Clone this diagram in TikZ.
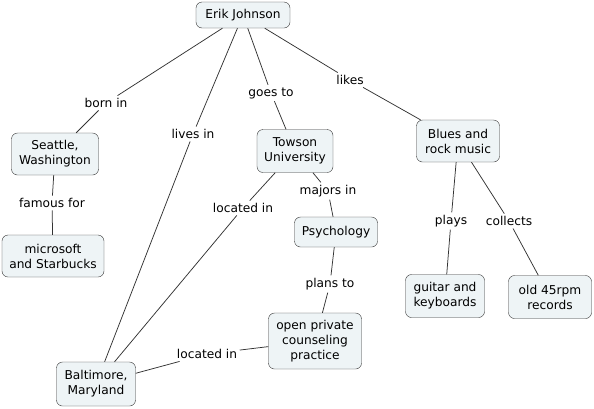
\documentclass[tikz,border=0pt]{standalone}
\usepackage{fontspec}
\setmainfont{DejaVu Sans}
\definecolor{cmapfill}{HTML}{EEF4F6}
\definecolor{cmapline}{HTML}{333333}
\begin{document}
\begin{tikzpicture}[x=1pt, y=-1pt,
    font=\fontsize{12.2}{15}\selectfont,
    concept/.style={draw=cmapline, fill=cmapfill, rounded corners=6pt, align=center, inner sep=2pt},
    linkword/.style={inner sep=2.5pt, align=center},
    link/.style={draw=cmapline, line width=0.75pt}]
    \useasboundingbox (0,0) rectangle (594,408);
    % concepts
    \node[concept, minimum width=94pt, minimum height=26pt] (erik) at (243,15) {Erik Johnson};
    \node[concept, minimum width=87pt, minimum height=42pt] (seattle) at (55,154) {Seattle,\\Washington};
    \node[concept, minimum width=102pt, minimum height=42pt] (msft) at (53,256) {microsoft\\and Starbucks};
    \node[concept, minimum width=76pt, minimum height=43pt] (towson) at (295,151) {Towson\\University};
    \node[concept, minimum width=83pt, minimum height=30pt] (psych) at (336,232) {Psychology};
    \node[concept, minimum width=93pt, minimum height=56pt] (practice) at (315,341) {open private\\counseling\\practice};
    \node[concept, minimum width=79pt, minimum height=44pt] (balt) at (96,384) {Baltimore,\\Maryland};
    \node[concept, minimum width=83pt, minimum height=42pt] (blues) at (458,141) {Blues and\\rock music};
    \node[concept, minimum width=79pt, minimum height=43pt] (guitar) at (445,296) {guitar and\\keyboards};
    \node[concept, minimum width=83pt, minimum height=43pt] (records) at (550,297) {old 45rpm\\records};
    % linking words
    \node[linkword] (bornin) at (106,103) {born in};
    \node[linkword] (livesin) at (193,134) {lives in};
    \node[linkword] (goesto) at (271,93) {goes to};
    \node[linkword] (likes) at (350,80) {likes};
    \node[linkword] (famous) at (52,203) {famous for};
    \node[linkword] (locA) at (243,208) {located in};
    \node[linkword] (majors) at (328,191) {majors in};
    \node[linkword] (plans) at (330,284) {plans to};
    \node[linkword] (plays) at (451,221) {plays};
    \node[linkword] (collects) at (509,221) {collects};
    \node[linkword] (locB) at (207,354) {located in};
    % connections
    \draw[link] (erik) -- (bornin) -- (seattle);
    \draw[link] (erik) -- (livesin) -- (balt);
    \draw[link] (erik) -- (goesto) -- (towson);
    \draw[link] (erik) -- (likes) -- (blues);
    \draw[link] (seattle) -- (famous) -- (msft);
    \draw[link] (towson) -- (locA) -- (balt);
    \draw[link] (towson) -- (majors) -- (psych);
    \draw[link] (psych) -- (plans) -- (practice);
    \draw[link] (blues) -- (plays) -- (guitar);
    \draw[link] (blues) -- (collects) -- (records);
    \draw[link] (practice) -- (locB) -- (balt);
\end{tikzpicture}
\end{document}
